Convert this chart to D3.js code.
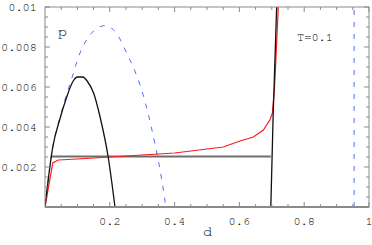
<!DOCTYPE html>
<html>
<head>
<meta charset="utf-8">
<script src="https://cdn.jsdelivr.net/npm/d3@7"></script>
<style>
  body { margin: 0; background: #fff; }
</style>
</head>
<body>
<div id="chart"></div>
<script>
// Data.
const xTicks = [0.2, 0.4, 0.6, 0.8, 1];
const yTicks = [0.002, 0.004, 0.006, 0.008, 0.01];

// Black solid curve (left arc and right branch).
const blackArcD = [0, 0.024, 0.046, 0.065, 0.087, 0.10, 0.117, 0.13, 0.15, 0.17, 0.195, 0.216];
const blackArcP = [0, 0.0030, 0.0044, 0.0054, 0.0063, 0.0065, 0.0065, 0.0063, 0.0057, 0.0045, 0.0025, 0];
const blackRightD = [0.697, 0.704, 0.715];
const blackRightP = [0, 0.0045, 0.01];

// Blue dashed curve.
const blueArcD = [0, 0.02, 0.05, 0.082, 0.108, 0.13, 0.15, 0.185, 0.22, 0.255, 0.28, 0.31, 0.34, 0.36, 0.373];
const blueArcP = [0, 0.0026, 0.0047, 0.0064, 0.0077, 0.0084, 0.0088, 0.00907, 0.0087, 0.0076, 0.0067, 0.0052, 0.0031, 0.0014, 0];
const blueLineD = [0.954, 0.954];
const blueLineP = [0, 0.01];

// Red curve.
const redD = [0, 0.024, 0.041, 0.1, 0.2, 0.3, 0.4, 0.5, 0.55, 0.602, 0.643, 0.674, 0.694, 0.7016, 0.708, 0.713, 0.72];
const redP = [0, 0.0022, 0.00235, 0.0024, 0.0025, 0.0026, 0.0027, 0.0029, 0.0030, 0.0033, 0.0035, 0.00385, 0.00435, 0.00468, 0.00585, 0.0075, 0.01];

// Gray tie line.
const grayD = [0.02, 0.697];
const grayP = [0.00252, 0.00252];

const W = 372, H = 245;
const margin = {top: 7, right: 3, bottom: 38, left: 45};
const xwidth = W - margin.left - margin.right;
const yheight = H - margin.top - margin.bottom;
// Courier-like faces first if the machine has one, otherwise Liberation Mono.
const FONT = "'Nimbus Mono PS', 'Nimbus Mono L', FreeMono, Courier, 'Liberation Mono', monospace";

const svg = d3.select("#chart").append("svg")
    .attr("width", W).attr("height", H)
  .append("g")
    .attr("transform", "translate(" + margin.left + "," + margin.top + ")");

const x = d3.scaleLinear().domain([0, 1]).range([0, xwidth]);
const y = d3.scaleLinear().domain([0, 0.01]).range([yheight, 0]);

svg.append("clipPath").attr("id", "clip")
  .append("rect").attr("width", xwidth).attr("height", yheight);

const zip = (a, b) => a.map((v, i) => [v, b[i]]);
const line = d3.line().x(d => x(d[0])).y(d => y(d[1])).curve(d3.curveMonotoneX);
const straight = d3.line().x(d => x(d[0])).y(d => y(d[1]));

const plot = svg.append("g").attr("clip-path", "url(#clip)");

// Frame with inward ticks on all four sides.
const frameColor = "#8a8a8a";
svg.append("rect")
    .attr("x", 0).attr("y", 0).attr("width", xwidth).attr("height", yheight)
    .attr("fill", "none").attr("stroke", frameColor).attr("stroke-width", 1);

const xMinor = d3.range(0.05, 1.0001, 0.05);
const yMinor = d3.range(0.0005, 0.01001, 0.0005);
const isMajorX = v => Math.abs(v * 5 - Math.round(v * 5)) < 1e-6;
const isMajorY = v => Math.abs(v * 500 - Math.round(v * 500)) < 1e-6;

const ticks = svg.append("g").attr("stroke", frameColor).attr("stroke-width", 1);
xMinor.forEach(v => {
  const len = isMajorX(v) ? 5 : 3;
  ticks.append("line").attr("x1", x(v)).attr("x2", x(v)).attr("y1", yheight).attr("y2", yheight - len);
  ticks.append("line").attr("x1", x(v)).attr("x2", x(v)).attr("y1", 0).attr("y2", len);
});
yMinor.forEach(v => {
  const len = isMajorY(v) ? 5 : 3;
  ticks.append("line").attr("y1", y(v)).attr("y2", y(v)).attr("x1", 0).attr("x2", len);
  ticks.append("line").attr("y1", y(v)).attr("y2", y(v)).attr("x1", xwidth).attr("x2", xwidth - len);
});

// Curves.
plot.append("path")
    .attr("d", straight(zip(grayD, grayP)))
    .attr("fill", "none").attr("stroke", "#6e6e6e").attr("stroke-width", 2);

plot.append("path")
    .attr("d", line(zip(blueArcD, blueArcP)))
    .attr("fill", "none").attr("stroke", "#4f6ff2").attr("stroke-width", 1)
    .attr("stroke-dasharray", "5,7");
plot.append("path")
    .attr("d", straight(zip(blueLineD, blueLineP)))
    .attr("fill", "none").attr("stroke", "#4f6ff2").attr("stroke-width", 1)
    .attr("stroke-dasharray", "5,7");

plot.append("path")
    .attr("d", straight(zip(redD, redP)))
    .attr("fill", "none").attr("stroke", "#ff1a1a").attr("stroke-width", 1.2);

plot.append("path")
    .attr("d", line(zip(blackArcD, blackArcP)))
    .attr("fill", "none").attr("stroke", "#111").attr("stroke-width", 1.3);
plot.append("path")
    .attr("d", straight(zip(blackRightD, blackRightP)))
    .attr("fill", "none").attr("stroke", "#111").attr("stroke-width", 1.3);

// Bottom axis line, thicker.
svg.append("line")
    .attr("x1", 0).attr("x2", xwidth).attr("y1", yheight).attr("y2", yheight)
    .attr("stroke", frameColor).attr("stroke-width", 2);

// Tick labels.
svg.append("g").selectAll("text").data(xTicks).enter()
  .append("text")
    .attr("x", d => x(d)).attr("y", yheight + 18)
    .attr("text-anchor", "middle")
    .style("font-family", FONT).style("font-size", "12px").style("fill", "#000")
    .text(d => d3.format("")(d));

svg.append("g").selectAll("text").data(yTicks).enter()
  .append("text")
    .attr("x", -8).attr("y", d => y(d) + 4)
    .attr("text-anchor", "end")
    .style("font-family", FONT).style("font-size", "12px").style("fill", "#000")
    .text(d => d === 0.01 ? "0.01" : d3.format(".3f")(d));

// Axis labels and annotation.
const label = (tx, ty, size, s) => svg.append("text")
    .attr("x", tx).attr("y", ty)
    .style("font-family", FONT).style("font-size", size + "px").style("fill", "#000")
    .text(s);
label(13, 29, 15, "p");
label(158, yheight + 29, 15, "d");
label(252, 34, 12, "T=0.1");
</script>
</body>
</html>
